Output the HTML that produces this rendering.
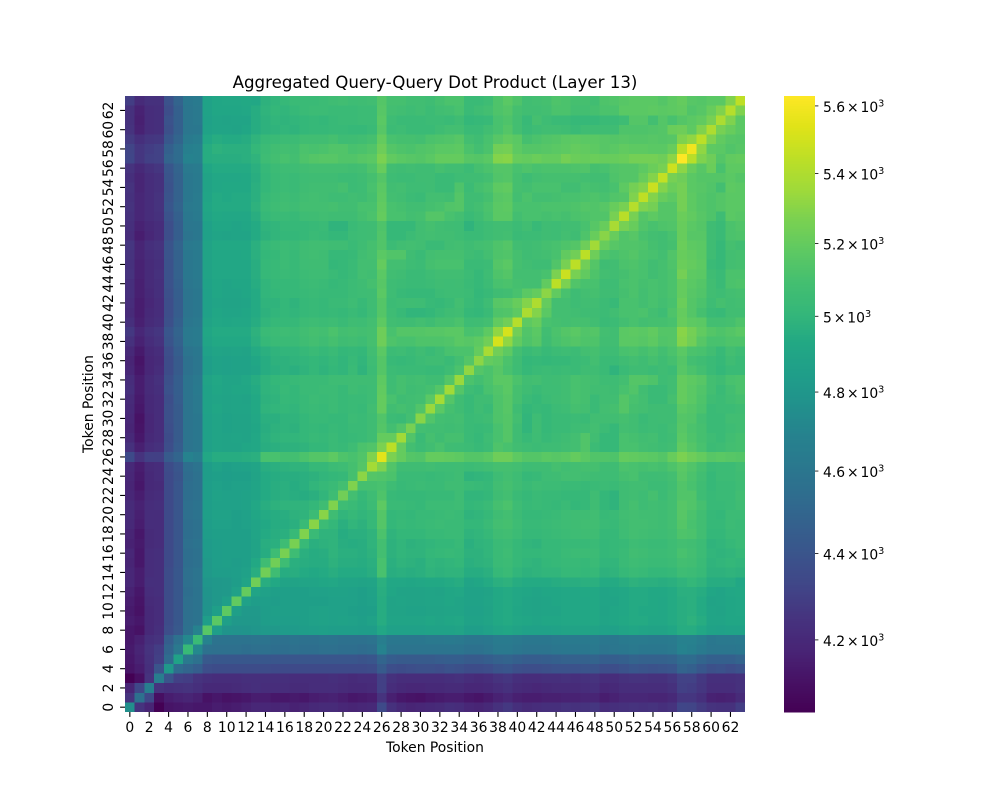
<!DOCTYPE html>
<html lang="en">
<head>
<meta charset="utf-8">
<title>Aggregated Query-Query Dot Product (Layer 13)</title>
<style>
html,body{margin:0;padding:0;background:#fff;}
svg{display:block;}
text{font-family:"DejaVu Sans","Liberation Sans",sans-serif;fill:#000;}
</style>
</head>
<body>
<svg id="chart" width="1000" height="800" viewBox="0 0 1000 800" xmlns="http://www.w3.org/2000/svg">
<rect x="0" y="0" width="1000" height="800" fill="#fff"/>
<text x="435" y="88" font-size="16.67" text-anchor="middle">Aggregated Query-Query Dot Product (Layer 13)</text>
<text x="435" y="752" font-size="13.89" text-anchor="middle">Token Position</text>
<text x="0" y="0" transform="translate(93,404) rotate(-90)" font-size="13.89" text-anchor="middle">Token Position</text>
<g id="cells" shape-rendering="crispEdges"></g>
<g id="xticks"></g>
<g id="yticks"></g>
<g id="cbar" shape-rendering="crispEdges"></g>
<g id="cticks"></g>
</svg>
<script>
// Token labels shown on both axes
const xTickLabels = [0,2,4,6,8,10,12,14,16,18,20,22,24,26,28,30,32,34,36,38,40,42,44,46,48,50,52,54,56,58,60,62];
const yTickLabels = [0,2,4,6,8,10,12,14,16,18,20,22,24,26,28,30,32,34,36,38,40,42,44,46,48,50,52,54,56,58,60,62];
// Colorbar tick values and mantissa labels
const colorbarTicks = [4200,4400,4600,4800,5000,5200,5400,5600];
const colorbarLabels = ["4.2 × 10","4.4 × 10","4.6 × 10","4.8 × 10","5 × 10","5.2 × 10","5.4 × 10","5.6 × 10"];
// Dot product values: the matrix is symmetric, rowValues[i][j] holds token i vs token j for j <= i
const rowValues = [
[4760],
[4250,4570],
[4180,4340,4670],
[4040,4100,4250,4660],
[4120,4150,4230,4400,4810],
[4130,4170,4240,4300,4540,4880],
[4140,4180,4250,4290,4500,4620,5030],
[4130,4160,4230,4250,4460,4570,4720,5040],
[4130,4110,4200,4230,4370,4430,4570,4690,5160],
[4150,4130,4200,4220,4360,4420,4560,4580,4850,5170],
[4140,4110,4200,4220,4360,4420,4560,4580,4790,4860,5180],
[4150,4120,4210,4220,4360,4420,4560,4580,4780,4810,4860,5190],
[4170,4130,4220,4230,4360,4420,4550,4580,4790,4810,4820,4870,5200],
[4190,4150,4230,4230,4360,4420,4560,4590,4800,4810,4820,4840,4900,5240],
[4190,4150,4220,4230,4360,4420,4560,4590,4820,4840,4840,4850,4870,4960,5240],
[4180,4130,4220,4230,4350,4410,4550,4570,4820,4850,4860,4840,4860,4930,5070,5240],
[4190,4130,4220,4230,4350,4410,4550,4570,4830,4850,4860,4860,4860,4890,4950,5060,5260],
[4170,4140,4210,4220,4350,4410,4560,4580,4830,4850,4860,4860,4860,4890,4960,4970,5060,5260],
[4180,4130,4210,4220,4350,4410,4550,4570,4840,4860,4860,4860,4860,4900,4940,4960,4970,5030,5280],
[4200,4150,4220,4220,4350,4410,4550,4570,4850,4870,4870,4860,4870,4900,4930,4950,4950,4970,5040,5300],
[4210,4160,4220,4220,4350,4410,4560,4580,4860,4880,4880,4860,4870,4910,4940,4950,4960,4980,4990,5050,5300],
[4210,4170,4220,4230,4350,4410,4560,4580,4850,4870,4870,4870,4880,4920,4960,4980,4990,4990,4990,5010,5070,5280],
[4190,4150,4210,4220,4350,4410,4550,4570,4850,4880,4870,4870,4880,4900,4940,4960,4970,4960,4950,4970,5000,5060,5240],
[4180,4130,4200,4210,4350,4410,4550,4570,4850,4870,4860,4870,4870,4900,4940,4960,4970,4950,4970,5000,5020,5040,5090,5280],
[4190,4140,4200,4220,4350,4400,4540,4570,4840,4860,4850,4860,4860,4890,4940,4950,4960,4960,4970,4980,5000,5010,5020,5100,5310],
[4200,4150,4210,4220,4360,4410,4550,4580,4840,4880,4860,4870,4880,4900,4960,4970,4980,4990,4990,5020,5020,5050,5060,5100,5150,5370],
[4350,4250,4300,4300,4440,4500,4690,4660,4920,4950,4950,4950,4960,4970,5110,5110,5090,5090,5120,5150,5150,5180,5130,5110,5140,5280,5550],
[4240,4160,4220,4240,4370,4450,4590,4610,4870,4900,4890,4890,4910,4920,4960,4970,4980,4980,4990,5010,5010,5040,5030,5060,5120,5140,5270,5440],
[4200,4130,4200,4220,4360,4440,4590,4610,4870,4900,4890,4900,4890,4920,4970,4990,5000,5000,5010,5030,5020,5040,5020,5030,5040,5070,5200,5200,5360],
[4180,4120,4190,4220,4370,4440,4590,4610,4870,4900,4880,4890,4890,4910,4960,4980,4990,4980,5010,5020,5010,5030,5020,5040,5040,5070,5150,5090,5140,5260],
[4190,4110,4190,4220,4380,4440,4590,4610,4870,4900,4880,4890,4890,4920,4970,4970,4990,4990,5010,5030,5030,5020,5020,5050,5040,5070,5140,5050,5040,5090,5300],
[4200,4130,4200,4220,4380,4440,4590,4620,4880,4910,4890,4900,4900,4930,4990,5000,5010,5000,5030,5040,5030,5050,5030,5040,5030,5080,5200,5080,5100,5080,5140,5340],
[4210,4140,4200,4220,4370,4450,4590,4620,4880,4900,4890,4900,4890,4930,4980,4990,5020,5010,5030,5050,5040,5050,5030,5040,5040,5060,5200,5110,5070,5080,5090,5170,5370],
[4230,4150,4210,4230,4390,4460,4590,4630,4880,4910,4900,4910,4910,4940,4990,5000,5030,5010,5040,5040,5050,5050,5030,5070,5050,5060,5190,5070,5100,5070,5080,5100,5150,5360],
[4220,4150,4210,4240,4380,4460,4590,4620,4890,4920,4900,4900,4920,4950,4990,5010,5020,5030,5040,5040,5040,5060,5060,5070,5070,5070,5180,5060,5100,5080,5090,5070,5070,5150,5340],
[4190,4130,4190,4220,4360,4440,4570,4600,4850,4880,4870,4880,4880,4900,4950,4970,4980,4970,4990,5010,4990,5010,5000,5040,4990,5050,5150,5050,5040,5040,5040,5030,5030,5060,5120,5320],
[4180,4120,4190,4210,4360,4440,4570,4600,4850,4880,4870,4880,4880,4910,4950,4980,4980,4990,5000,5010,5000,5020,5000,5030,5000,5060,5150,5030,5020,5030,5050,5070,5070,5040,5090,5150,5310],
[4200,4140,4200,4220,4370,4460,4590,4610,4870,4900,4890,4900,4890,4940,4970,4990,5000,5000,5020,5040,5020,5040,5010,5020,5010,5080,5170,5050,5060,5040,5070,5040,5070,5110,5120,5120,5200,5380],
[4240,4170,4220,4250,4400,4480,4620,4640,4900,4930,4930,4930,4930,4970,5020,5040,5040,5040,5070,5090,5070,5100,5070,5080,5060,5100,5230,5130,5110,5110,5130,5130,5130,5140,5170,5160,5180,5240,5510],
[4270,4190,4240,4260,4410,4490,4620,4640,4910,4940,4940,4940,4940,4980,5040,5050,5060,5050,5080,5100,5090,5120,5090,5100,5090,5100,5230,5110,5150,5150,5150,5160,5160,5170,5170,5110,5120,5180,5320,5510],
[4230,4160,4210,4230,4380,4470,4600,4620,4890,4920,4910,4920,4920,4950,5000,5020,5020,5020,5050,5060,5050,5060,5040,5070,5060,5090,5180,5080,5070,5070,5090,5070,5100,5100,5120,5060,5070,5090,5190,5240,5420],
[4210,4150,4200,4220,4370,4450,4590,4610,4870,4910,4900,4900,4910,4940,4980,5000,5010,5000,5020,5030,5020,5030,5020,5040,5020,5060,5150,5060,5030,5000,5000,5010,5040,5070,5080,5020,5010,5040,5130,5140,5180,5390],
[4220,4150,4190,4220,4370,4450,4590,4610,4870,4900,4890,4890,4900,4940,4990,4990,5010,4990,5020,5030,5020,5040,5040,5060,5030,5070,5150,5050,5060,5070,5060,5030,5020,5040,5090,5040,5020,5060,5160,5170,5210,5290,5400],
[4230,4160,4200,4230,4380,4460,4590,4610,4870,4910,4900,4900,4910,4940,5000,5010,5020,5020,5030,5040,5030,5030,5030,5050,5060,5070,5170,5060,5030,5020,5020,5020,5050,5060,5060,5050,5010,5030,5070,5080,5110,5170,5200,5310],
[4230,4160,4210,4230,4390,4470,4600,4620,4880,4910,4900,4910,4910,4950,5000,5020,5020,5020,5040,5050,5040,5020,5030,5050,5070,5100,5160,5060,5050,5040,5040,5050,5070,5060,5070,5040,5020,5050,5110,5120,5100,5090,5090,5190,5440],
[4250,4170,4210,4240,4390,4480,4610,4630,4890,4920,4920,4920,4920,4960,5020,5030,5040,5030,5050,5060,5060,5040,5020,5040,5090,5080,5170,5080,5070,5040,5040,5060,5080,5080,5080,5050,5020,5060,5130,5150,5090,5090,5090,5110,5270,5480],
[4240,4170,4210,4230,4390,4480,4610,4630,4890,4920,4920,4920,4920,4960,5020,5030,5050,5030,5060,5070,5070,5010,5020,5040,5090,5090,5200,5090,5090,5060,5050,5100,5110,5110,5110,5040,5040,5050,5150,5170,5100,5080,5060,5060,5140,5260,5440],
[4250,4180,4220,4240,4400,4480,4610,4630,4890,4920,4920,4920,4930,4970,5010,5020,5050,5030,5070,5080,5070,5020,5020,5030,5080,5100,5170,5140,5140,5070,5040,5090,5100,5100,5100,5070,5050,5090,5130,5140,5100,5070,5080,5090,5110,5190,5240,5440],
[4260,4180,4230,4250,4400,4490,4620,4640,4890,4930,4930,4930,4930,4970,5020,5040,5050,5040,5070,5080,5080,5070,5070,5040,5070,5100,5140,5050,5080,5090,5080,5040,5040,5080,5090,5070,5090,5100,5130,5150,5080,5070,5080,5100,5110,5130,5150,5230,5360],
[4220,4150,4190,4220,4370,4460,4590,4610,4870,4900,4890,4900,4900,4940,4980,5000,5010,5010,5020,5040,5030,5010,5010,5050,5060,5070,5140,5020,5020,5050,5080,5090,5080,5080,5060,5040,5040,5060,5080,5090,5040,5050,5050,5070,5060,5090,5070,5130,5210,5300],
[4230,4170,4200,4220,4370,4460,4600,4610,4870,4910,4910,4900,4910,4940,4990,5000,5020,5020,5020,5030,5040,4990,4990,5040,5060,5070,5130,5020,5020,5020,5080,5100,5080,5070,5060,4990,5040,5060,5080,5080,5050,5080,5030,5070,5060,5080,5080,5110,5160,5210,5380],
[4240,4190,4220,4240,4390,4470,4610,4630,4900,4930,4920,4920,4920,4960,5020,5040,5040,5030,5060,5070,5080,5070,5070,5070,5100,5120,5200,5110,5110,5090,5100,5150,5150,5110,5090,5040,5070,5110,5170,5170,5090,5110,5110,5100,5110,5100,5120,5130,5140,5140,5260,5430],
[4250,4190,4220,4250,4410,4490,4620,4640,4910,4940,4940,4940,4940,4980,5040,5060,5080,5060,5090,5090,5090,5100,5080,5080,5110,5110,5190,5110,5100,5080,5080,5100,5110,5140,5150,5070,5090,5120,5170,5180,5110,5110,5110,5120,5120,5120,5130,5150,5140,5160,5210,5260,5420],
[4240,4190,4220,4250,4400,4480,4610,4640,4900,4940,4930,4940,4940,4970,5030,5050,5070,5050,5080,5090,5080,5060,5060,5080,5070,5100,5180,5090,5080,5050,5040,5090,5090,5080,5150,5070,5070,5100,5160,5170,5090,5120,5090,5090,5100,5110,5110,5120,5130,5110,5140,5150,5280,5450],
[4250,4180,4220,4240,4390,4480,4610,4630,4890,4920,4930,4930,4930,4970,5010,5040,5050,5040,5070,5080,5080,5080,5100,5050,5060,5110,5170,5080,5090,5060,5060,5070,5040,5040,5130,5050,5100,5120,5180,5190,5100,5090,5110,5110,5110,5080,5080,5110,5100,5090,5110,5180,5250,5290,5480],
[4230,4180,4220,4240,4400,4480,4610,4630,4890,4920,4920,4920,4930,4960,5010,5040,5050,5040,5060,5070,5070,5070,5050,5050,5070,5100,5150,5060,5050,5050,5070,5070,5040,5040,5060,5070,5070,5090,5140,5150,5100,5060,5090,5100,5100,5100,5100,5090,5080,5080,5130,5150,5150,5210,5290,5460],
[4250,4200,4240,4260,4410,4490,4620,4640,4910,4940,4940,4940,4940,4970,5020,5050,5060,5060,5080,5090,5090,5090,5090,5080,5090,5130,5210,5080,5070,5080,5070,5070,5100,5080,5080,5050,5100,5120,5150,5150,5110,5130,5110,5120,5120,5120,5130,5140,5100,5110,5140,5150,5150,5180,5220,5260,5490],
[4330,4260,4300,4310,4490,4540,4690,4680,4950,4960,4960,4960,4970,4990,5060,5090,5110,5090,5130,5150,5160,5160,5140,5140,5160,5170,5270,5190,5170,5160,5150,5170,5200,5200,5200,5160,5150,5170,5290,5300,5210,5200,5220,5200,5200,5250,5220,5210,5220,5210,5210,5220,5250,5250,5250,5230,5310,5630],
[4320,4260,4290,4310,4470,4540,4670,4680,4950,4980,4970,4970,4970,5010,5050,5080,5090,5080,5120,5110,5120,5140,5140,5110,5120,5140,5230,5150,5130,5120,5140,5150,5170,5170,5180,5120,5090,5120,5240,5250,5180,5150,5150,5160,5170,5180,5200,5190,5180,5160,5170,5190,5180,5180,5170,5170,5210,5430,5590],
[4280,4230,4260,4270,4420,4500,4630,4650,4920,4950,4940,4940,4950,4990,5030,5040,5050,5050,5080,5080,5080,5100,5060,5070,5080,5100,5200,5110,5100,5100,5090,5120,5130,5140,5160,5090,5070,5110,5160,5190,5170,5100,5120,5140,5150,5170,5180,5170,5170,5160,5150,5160,5150,5150,5160,5150,5160,5280,5320,5440],
[4250,4170,4220,4230,4380,4470,4600,4610,4880,4900,4900,4890,4910,4950,4980,4990,5000,4990,5010,5020,5020,5030,5030,5020,5020,5040,5160,5050,5060,5040,5040,5040,5070,5090,5090,5040,5040,5080,5110,5150,5090,5040,5060,5080,5080,5070,5040,5070,5070,5070,5070,5130,5130,5130,5140,5150,5220,5230,5180,5280,5400],
[4240,4160,4220,4230,4390,4470,4600,4620,4870,4900,4890,4900,4900,4950,4980,5000,4990,5000,5010,5020,5010,5030,5040,5040,5050,5050,5170,5060,5040,5040,5040,5050,5050,5040,5070,5010,5020,5030,5110,5130,5090,5030,5100,5060,5040,5040,5020,5020,5020,5040,5040,5060,5150,5150,5090,5150,5110,5150,5170,5190,5260,5390],
[4240,4170,4220,4230,4370,4470,4600,4620,4880,4910,4910,4910,4920,4950,4990,5010,5000,5020,5040,5050,5050,5040,5040,5040,5050,5050,5160,5090,5080,5060,5080,5050,5080,5090,5110,5040,5070,5090,5130,5150,5100,5080,5080,5090,5120,5120,5090,5090,5100,5120,5120,5170,5170,5170,5180,5170,5180,5190,5140,5160,5210,5280,5420],
[4290,4210,4240,4240,4390,4490,4610,4630,4880,4910,4920,4920,4930,4920,4980,5000,5020,5040,5040,5040,5050,5070,5080,5060,5070,5080,5150,5100,5100,5080,5080,5070,5100,5120,5120,5040,5040,5060,5130,5170,5130,5080,5090,5100,5130,5120,5100,5100,5080,5130,5140,5160,5170,5170,5170,5150,5180,5200,5160,5150,5170,5170,5280,5450]
];
// Viridis colormap lookup
const viridis = ["#440154","#471164","#482475","#46327e","#414487","#3b528b","#355f8d","#2f6c8e","#2a788e","#26828e","#21918c","#1f9e89","#22a884","#35b779","#44bf70","#5ec962","#7ad151","#a0da39","#bddf26","#dfe318","#fde725"];

const svgNS = "http://www.w3.org/2000/svg";
const plot = {left:125, right:745, top:96, bottom:712};
const bar = {left:784, right:815};
const tokenCount = rowValues.length;

function valueAt(i, j) { return i >= j ? rowValues[i][j] : rowValues[j][i]; }
const allValues = rowValues.flat();
const vMin = Math.min(...allValues);
const vMax = Math.max(...allValues);

// Axis functions
function xScale(t) { return plot.left + t * (plot.right - plot.left) / tokenCount; }
function yScale(t) { return plot.bottom - t * (plot.bottom - plot.top) / tokenCount; }
function logFraction(v) { return Math.log(v / vMin) / Math.log(vMax / vMin); }
function colorbarY(v) { return plot.bottom - logFraction(v) * (plot.bottom - plot.top); }
function hexChannel(hex, k) { return parseInt(hex.substr(1 + 2 * k, 2), 16); }
function colorFor(f) {
  const p = Math.max(0, Math.min(1, f)) * (viridis.length - 1);
  const a = Math.min(Math.floor(p), viridis.length - 2);
  const t = p - a;
  const c = [0, 1, 2].map(k => Math.round(hexChannel(viridis[a], k) * (1 - t) + hexChannel(viridis[a + 1], k) * t));
  return "rgb(" + c.join(",") + ")";
}
function make(tag, attrs, parent) {
  const el = document.createElementNS(svgNS, tag);
  for (const k in attrs) el.setAttribute(k, attrs[k]);
  parent.appendChild(el);
  return el;
}

// Heatmap cells
const cellsGroup = document.getElementById("cells");
for (let i = 0; i < tokenCount; i++) {
  for (let j = 0; j < tokenCount; j++) {
    const cell = make("rect", {
      x: xScale(j).toFixed(2),
      y: yScale(i + 1).toFixed(2),
      width: (xScale(j + 1) - xScale(j)).toFixed(2),
      height: (yScale(i) - yScale(i + 1)).toFixed(2),
      fill: colorFor(logFraction(valueAt(i, j)))
    }, cellsGroup);
    
    
  }
}

// X axis ticks
const xTicksGroup = document.getElementById("xticks");
xTickLabels.forEach(label => {
  const px = xScale(label + 0.5);
  const tick = make("line", {x1: px, x2: px, y1: plot.bottom, y2: plot.bottom + 4.9, stroke: "#000", "stroke-width": 1.1}, xTicksGroup);
  
  
  const txt = make("text", {x: px, y: 732, "font-size": 13.89, "text-anchor": "middle"}, xTicksGroup);
  txt.textContent = label;
  
  
});

// Y axis ticks
const yTicksGroup = document.getElementById("yticks");
yTickLabels.forEach(label => {
  const py = yScale(label + 0.5);
  const tick = make("line", {x1: plot.left - 4.9, x2: plot.left, y1: py, y2: py, stroke: "#000", "stroke-width": 1.1}, yTicksGroup);
  
  
  const txt = make("text", {x: 0, y: 0, transform: "translate(113," + py + ") rotate(-90)", "font-size": 13.89, "text-anchor": "middle"}, yTicksGroup);
  txt.textContent = label;
  
  
});

// Colorbar gradient
const barGroup = document.getElementById("cbar");
const barSteps = 256;
for (let s = 0; s < barSteps; s++) {
  const h = (plot.bottom - plot.top) / barSteps;
  const seg = make("rect", {
    x: bar.left,
    y: (plot.bottom - (s + 1) * h).toFixed(2),
    width: bar.right - bar.left,
    height: (h + 0.6).toFixed(2),
    fill: colorFor((s + 0.5) / barSteps)
  }, barGroup);
  
  
}

// Colorbar ticks
const cTicksGroup = document.getElementById("cticks");
colorbarTicks.forEach((v, k) => {
  const py = colorbarY(v);
  const tick = make("line", {x1: bar.right, x2: bar.right + 3.4, y1: py, y2: py, stroke: "#000", "stroke-width": 0.8}, cTicksGroup);
  
  
  const txt = make("text", {x: 823, y: py + 6, "font-size": 13.89, "word-spacing": -2.5}, cTicksGroup);
  txt.textContent = colorbarLabels[k];
  const sup = make("tspan", {dy: -5.5, "font-size": 9.7}, txt);
  sup.textContent = "3";
  
  
});
</script>
</body>
</html>
